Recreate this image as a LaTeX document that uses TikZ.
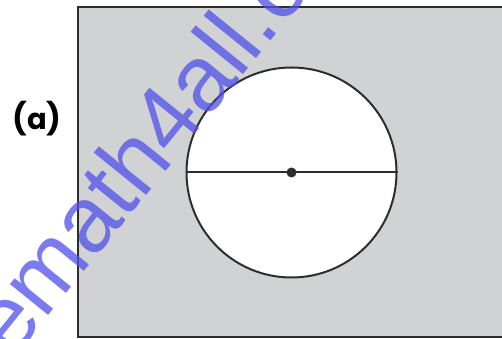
\documentclass[tikz,border=0pt]{standalone}
\usepackage{fontspec}
\newfontfamily\wmfont{Liberation Sans}
\newfontfamily\labfont{Poppins}[UprightFont=* Bold]
\definecolor{panel}{RGB}{209,210,212}
\definecolor{edge}{RGB}{45,45,45}
\definecolor{wmblue}{RGB}{80,80,235}
\tikzset{
  outline/.style={draw=edge, line width=2pt},
}
\begin{document}
\begin{tikzpicture}[x=1pt,y=1pt]
\useasboundingbox (0,0) rectangle (502,339);
\begin{scope}
\clip (0,0) rectangle (502,339);
\fill[white] (0,0) rectangle (502,339);
\draw[outline, fill=panel] (78,332) rectangle (515,2);
\node[circle, outline, fill=white, minimum size=210pt, inner sep=0pt] (c) at (291.5,166.5) {};
\draw[outline] (c.west) -- (c.east);
\fill[edge] (c.center) circle (5pt);
\node[font=\labfont, text=black, inner sep=0pt] (lab) at (37,220)
  {\fontsize{31}{31}\selectfont(\raisebox{0.5pt}{\fontsize{29}{29}\selectfont a})};
\node[font=\wmfont\fontsize{93}{93}\selectfont, text=wmblue, opacity=0.75, rotate=51, anchor=base west, inner sep=0pt] (wm) at (12,-22) {emath4all.com};
\end{scope}
\end{tikzpicture}
\end{document}
